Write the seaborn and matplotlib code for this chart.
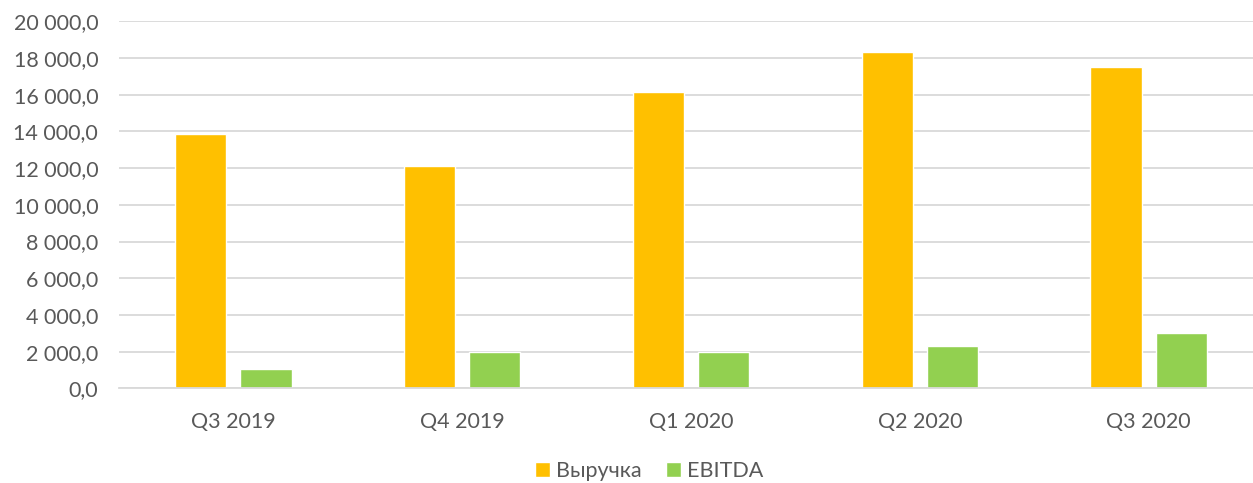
import pandas as pd
import matplotlib
matplotlib.use("Agg")
import matplotlib.pyplot as plt
from matplotlib.ticker import FuncFormatter
import seaborn as sns

# Data
quarters = ["Q3 2019", "Q4 2019", "Q1 2020", "Q2 2020", "Q3 2020"]
revenue = [13860, 12130, 16150, 18310, 17490]
ebitda = [1050, 1990, 2000, 2300, 3000]
series_names = ["Выручка", "EBITDA"]
colors = ["#FFC000", "#92D050"]

df = pd.DataFrame({
    "quarter": quarters * 2,
    "value": revenue + ebitda,
    "series": [series_names[0]] * len(quarters) + [series_names[1]] * len(quarters),
})

sns.set_style("white")
plt.rcParams["font.family"] = ["Lato", "DejaVu Sans"]

fig = plt.figure(figsize=(12.53, 4.83), dpi=100)
# plot area runs a little past the right edge, as in the original
ax = fig.add_axes([0.095, 0.196, 0.913, 0.760])

sns.barplot(data=df, x="quarter", y="value", hue="series", palette=colors,
            width=0.57, gap=0.215, ax=ax, saturation=1, legend=True)

ax.set_ylim(0, 20000)
ax.set_xlim(-0.5, 4.5)
ax.set_yticks(range(0, 20001, 2000))


def fmt(v, pos):
    return f"{v:,.1f}".replace(",", " ").replace(".", ",")


ax.yaxis.set_major_formatter(FuncFormatter(fmt))
ax.yaxis.grid(True, color="#D9D9D9", linewidth=1.3)
ax.set_axisbelow(True)
for side in ["top", "right", "left"]:
    ax.spines[side].set_visible(False)
ax.spines["bottom"].set_color("#D9D9D9")
ax.spines["bottom"].set_linewidth(1.3)
ax.tick_params(axis="both", length=0, labelsize=15.5, labelcolor="#595959")
ax.tick_params(axis="y", pad=15)
ax.tick_params(axis="x", pad=17)
ax.set_xlabel("")
ax.set_ylabel("")

handles, labels = ax.get_legend_handles_labels()
ax.legend_.remove()
fig.legend(handles, labels, loc="center", bbox_to_anchor=(0.518, 0.025), ncol=2,
           frameon=False, fontsize=15.5, labelcolor="#595959",
           handlelength=0.7, handleheight=0.7, handletextpad=0.3, columnspacing=1.1)

fig.savefig("out.png", dpi=100)
